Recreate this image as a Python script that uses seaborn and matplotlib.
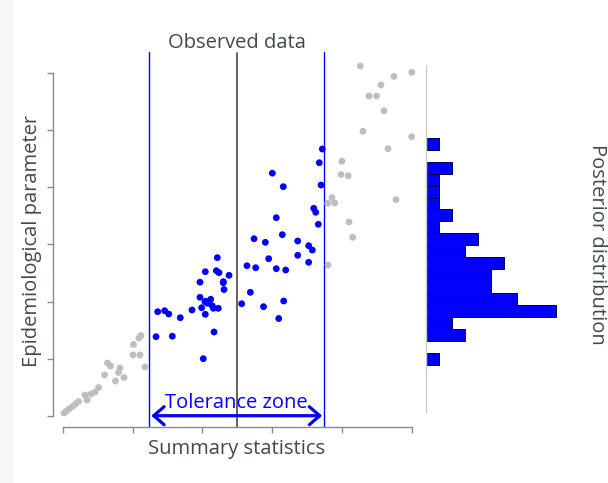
import numpy as np
import pandas as pd
import matplotlib
matplotlib.use("Agg")
import matplotlib.pyplot as plt
import seaborn as sns

# Simulated summary statistic (x) and epidemiological parameter (y)
sim_stat = [
    1.122, 1.093, 1.014, 1.007, 1.107, 1.179, 0.642, 0.685, 0.821, 0.799,
    0.599, 0.756, 0.878, 0.513, 0.463, 0.405, 0.319, 0.348, 0.226, 0.183,
    0.140, 0.090, 0.047, 0.019,
    4.264, 4.746, 5.000, 4.560, 4.388, 4.496, 4.603, 4.302, 5.000, 4.660,
    4.001, 3.987, 4.090, 3.858, 3.797, 3.897, 4.775, 4.102, 4.155, 3.801,
    2.215, 2.043, 2.201, 2.239, 2.383, 1.967, 2.301, 2.311, 1.967, 2.120,
    2.039, 2.077, 1.991, 2.143, 2.158, 2.229, 1.852, 2.043, 1.361, 1.461,
    1.519, 1.685, 2.168, 1.337, 1.570, 2.014,
    3.719, 3.676, 3.003, 3.160, 3.701, 3.596, 3.625, 3.060, 3.662, 2.741,
    2.903, 3.146, 3.367, 3.524, 3.576, 2.951, 3.367, 3.524, 2.640, 2.765,
    3.060, 3.195, 2.688, 2.564, 2.877, 3.166, 3.095,
    2.050, 2.300,
]
sim_param = [
    1.405, 1.361, 1.248, 1.064, 1.064, 0.853, 0.923, 0.871, 0.836, 0.757,
    0.713, 0.608, 0.669, 0.494, 0.415, 0.380, 0.363, 0.275, 0.249, 0.205,
    0.161, 0.117, 0.074, 0.047,
    6.128, 5.944, 6.017, 5.795, 5.602, 5.602, 5.344, 4.983, 4.889, 4.678,
    4.459, 4.226, 4.205, 3.823, 3.722, 3.727, 3.785, 3.394, 3.126, 2.641,
    2.769, 2.523, 2.541, 2.506, 2.460, 2.340, 2.348, 2.211, 2.075, 2.040,
    1.998, 1.970, 1.892, 1.927, 1.882, 1.882, 1.852, 1.777, 1.822, 1.840,
    1.782, 1.717, 1.467, 1.384, 1.393, 0.999,
    4.673, 4.433, 4.250, 4.013, 4.042, 3.634, 3.564, 3.469, 3.354, 3.101,
    3.038, 3.172, 3.061, 2.979, 2.903, 2.751, 2.811, 2.688, 2.628, 2.593,
    2.576, 2.553, 2.162, 1.962, 1.910, 2.010, 1.703,
    2.005, 2.330,
]

observed = 2.493
tolerance = 1.256

x_ticks = [0, 1, 2, 3, 4, 5]
y_ticks = [0, 1, 2, 3, 4, 5, 6]

# Posterior histogram breaks
hist_lo, hist_hi, n_bins = 0.888, 4.871, 19

df = pd.DataFrame({"stat": sim_stat, "param": sim_param})
df["status"] = np.where((df["stat"] - observed).abs() <= tolerance,
                        "accepted", "rejected")
accepted = df[df["status"] == "accepted"]

sns.set_theme(style="white")
plt.rcParams["font.family"] = ["Open Sans", "DejaVu Sans"]

text_col = "#3f4a50"
axis_col = "#8a8a8a"
blue = "#0000ff"
fs = 14.5

W, H = 608, 483
fig = plt.figure(figsize=(W / 100, H / 100), dpi=100)
fig.patch.set_facecolor("white")
fig.patches.append(plt.Rectangle((0, 0), 12 / W, 1, transform=fig.transFigure,
                                 color="#f6f6f6", zorder=-5))

ax_bottom = (H - 426.7) / H
ax_height = (426.7 - 52) / H
ax = fig.add_axes([52.7 / W, ax_bottom, (425 - 52.7) / W, ax_height])
ax.set_facecolor("none")

xlim = (-0.1433, 5.1905)
ylim = (-0.1927, 6.3729)

# Tolerance window and observed value
ax.axvline(observed - tolerance, color=blue, lw=1.0, zorder=1)
ax.axvline(observed + tolerance, color=blue, lw=1.0, zorder=1)
ax.axvline(observed, color="#555555", lw=1.3, zorder=1,
           ymax=(426.7 - 53.5) / (426.7 - 52))

sns.scatterplot(data=df, x="stat", y="param", hue="status",
                palette={"rejected": "#bebebe", "accepted": blue},
                s=24, linewidth=0, legend=False, ax=ax, zorder=3)

ax.set_xlim(*xlim)
ax.set_ylim(*ylim)
ax.set_xticks(x_ticks)
ax.set_yticks(y_ticks)
ax.set_xticklabels([])
ax.set_yticklabels([])
ax.set_xlabel("")
ax.set_ylabel("")
for side in ("top", "right"):
    ax.spines[side].set_visible(False)
for side in ("left", "bottom"):
    ax.spines[side].set_color(axis_col)
    ax.spines[side].set_linewidth(1.0)
ax.spines["bottom"].set_bounds(x_ticks[0], x_ticks[-1])
ax.spines["left"].set_bounds(y_ticks[0], y_ticks[-1])
ax.tick_params(axis="both", direction="out", length=4.3, width=1.0,
               color=axis_col, left=True, bottom=True)

# Tolerance arrow and labels
ax.annotate("", xy=(observed + tolerance, 0.0), xytext=(observed - tolerance, 0.0),
            arrowprops=dict(arrowstyle="<->,head_length=0.75,head_width=0.65",
                            color=blue, lw=2.3, shrinkA=1.6, shrinkB=1.6,
                            mutation_scale=10),
            zorder=4)
ax.text(observed, 0.13, "Tolerance zone", color=blue, fontsize=fs,
        ha="center", va="baseline", zorder=4)
ax.annotate("Observed data", xy=(observed, 1), xycoords=("data", "axes fraction"),
            xytext=(0, 2.7), textcoords="offset points", ha="center",
            va="baseline", fontsize=fs, color=text_col, annotation_clip=False)

# Posterior distribution of the accepted parameters
axh = fig.add_axes([426 / W, ax_bottom, 169 / W, ax_height])
axh.set_facecolor("none")
sns.histplot(y=accepted["param"], bins=np.linspace(hist_lo, hist_hi, n_bins + 1),
             color=blue, edgecolor="#00004a", linewidth=0.7, alpha=1.0, ax=axh)
axh.set_xlim(0, 13)
axh.set_ylim(*ylim)
axh.set_xticks([])
axh.set_yticks([])
axh.set_xlabel("")
axh.set_ylabel("")
for side in ("top", "right", "bottom"):
    axh.spines[side].set_visible(False)
axh.spines["left"].set_color("#cccccc")
axh.spines["left"].set_linewidth(1.0)
axh.spines["left"].set_bounds(0.065, 6.145)

fig.text(236.5 / W, 1 - 454 / H, "Summary statistics", ha="center",
         va="baseline", fontsize=fs, color=text_col)
fig.text(32 / W, 1 - 241 / H, "Epidemiological parameter", rotation=90,
         ha="center", va="center", fontsize=fs, color=text_col)
fig.text(597 / W, 1 - 244 / H, "Posterior distribution", rotation=-90,
         ha="center", va="center", fontsize=fs, color=text_col)

fig.savefig("out.png", dpi=100, facecolor=fig.get_facecolor())
